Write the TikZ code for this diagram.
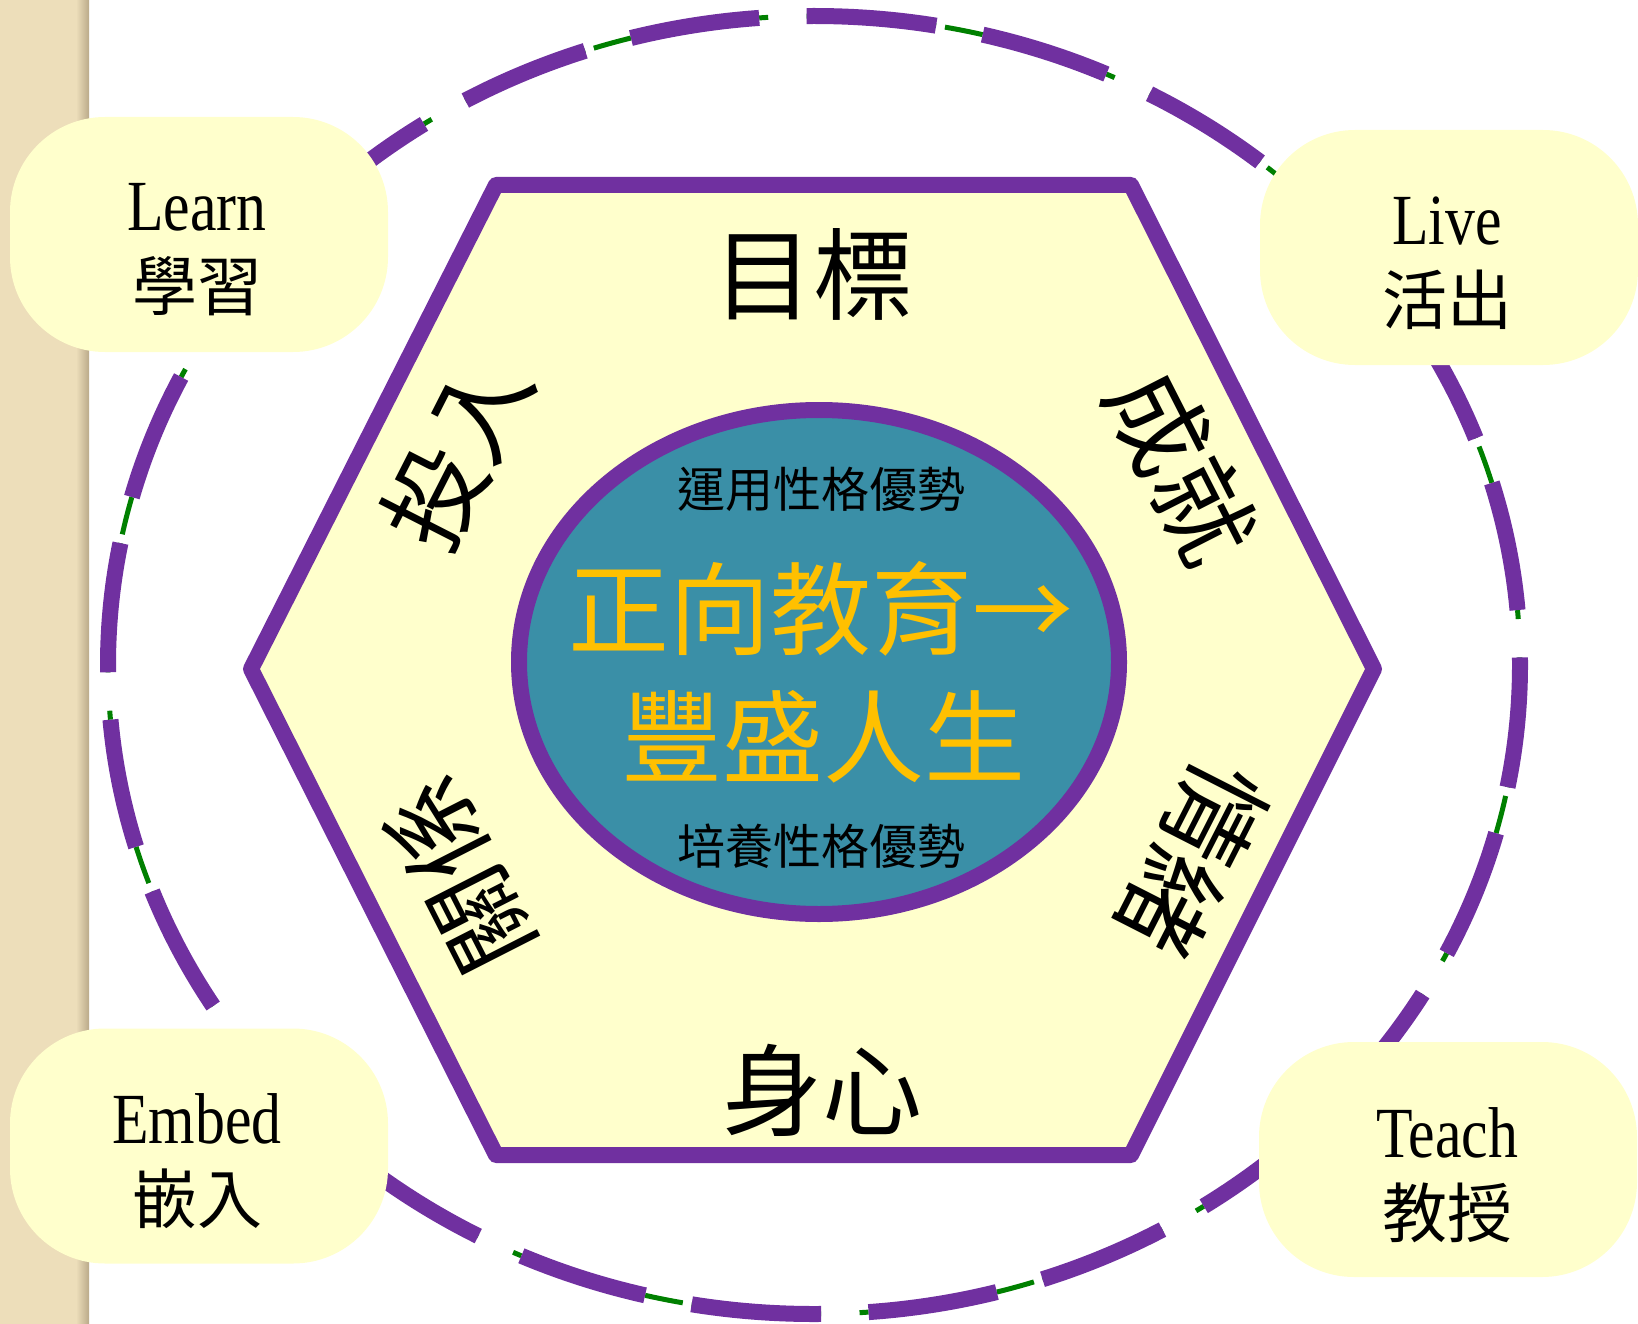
\documentclass[tikz,border=0pt]{standalone}
\usepackage{fontspec}
\usepackage{xcolor}
\usetikzlibrary{shapes.geometric}

\newfontfamily\latinfont{Liberation Serif}[FakeStretch=0.83]
\newfontfamily\cjk{Noto Sans CJK TC}

\definecolor{purp}{RGB}{112,48,160}
\definecolor{cream}{RGB}{255,255,204}
\definecolor{corefill}{RGB}{58,143,167}
\definecolor{gold}{RGB}{255,192,0}
\definecolor{ringgreen}{RGB}{0,128,0}
\definecolor{stripbg}{RGB}{237,222,186}
\definecolor{stripedge}{RGB}{186,170,138}

\tikzset{
  cardbox/.style={fill=cream, rounded corners=95pt, minimum width=378pt, minimum height=235pt, inner sep=0pt},
  cardtext/.style={align=center, inner sep=0pt, font=\latinfont\fontsize{72}{80}\selectfont},
  hexword/.style={inner sep=0pt, font=\cjk\fontsize{100}{100}\selectfont},
  corebig/.style={inner sep=0pt, text=gold, font=\cjk\fontsize{101}{101}\selectfont},
  coresmall/.style={inner sep=0pt, font=\cjk\fontsize{48}{48}\selectfont},
  ringline/.style={draw=purp, line width=16pt, dash pattern=on 130pt off 47.45pt, dash phase=7pt},
  ringthin/.style={draw=ringgreen, line width=5pt, dash pattern=on 130pt off 9pt on 38.45pt, dash phase=7pt}
}

\begin{document}
\begin{tikzpicture}[x=1pt,y=1pt,yscale=-1]
\useasboundingbox (0,0) rectangle (1638,1324);

% left strip
\fill[stripbg] (0,0) rectangle (89,1324);
\shade[left color=stripbg, right color=stripedge] (76,0) rectangle (89,1324);

% outer ring
\draw[ringthin] (814,665) ellipse [x radius=706, y radius=649];
\draw[ringline] (814,665) ellipse [x radius=706, y radius=649];

% hexagon
\draw[draw=purp, fill=cream, line width=16pt, line join=round] (496,185) -- (1131,185) -- (1374,669) -- (1131,1155) -- (496,1155) -- (251,669) -- cycle;

\node[hexword] (goal) at (813,274) {目標};
\node[hexword] (health) at (822,1090) {身心};
\node[hexword, rotate=63] (engage) at (457,452) {投入};
\node[hexword, rotate=-63] (achieve) at (1182,466) {成就};
\node[hexword, rotate=-117] (emotion) at (1193,858) {情緒};
\node[hexword, rotate=117] (relation) at (458,876) {關係};

% centre
\node[ellipse, draw=purp, fill=corefill, line width=16pt, minimum width=600pt, minimum height=504pt] (core) at (819,662) {};
\node[coresmall] (apply) at (821,489) {運用性格優勢};
\node[corebig] (posedu) at (821,609) {正向教育→};
\node[corebig] (flourish) at (823,737) {豐盛人生};
\node[coresmall] (build) at (821,846) {培養性格優勢};

% corner cards
\node[cardbox] (learnbox) at (199,234.5) {};
\node[cardbox] (livebox) at (1449,247.5) {};
\node[cardbox] (embedbox) at (199,1146) {};
\node[cardbox] (teachbox) at (1448,1159.5) {};

\node[cardtext] (learn) at (197,250) {Learn\\{\cjk\fontsize{65}{80}\selectfont 學習}};
\node[cardtext] (live) at (1447,263.5) {Live\\{\cjk\fontsize{65}{80}\selectfont 活出}};
\node[cardtext] (embed) at (197,1161.5) {Embed\\{\cjk\fontsize{65}{80}\selectfont 嵌入}};
\node[cardtext] (teach) at (1447,1175) {Teach\\{\cjk\fontsize{65}{80}\selectfont 教授}};

\end{tikzpicture}
\end{document}
